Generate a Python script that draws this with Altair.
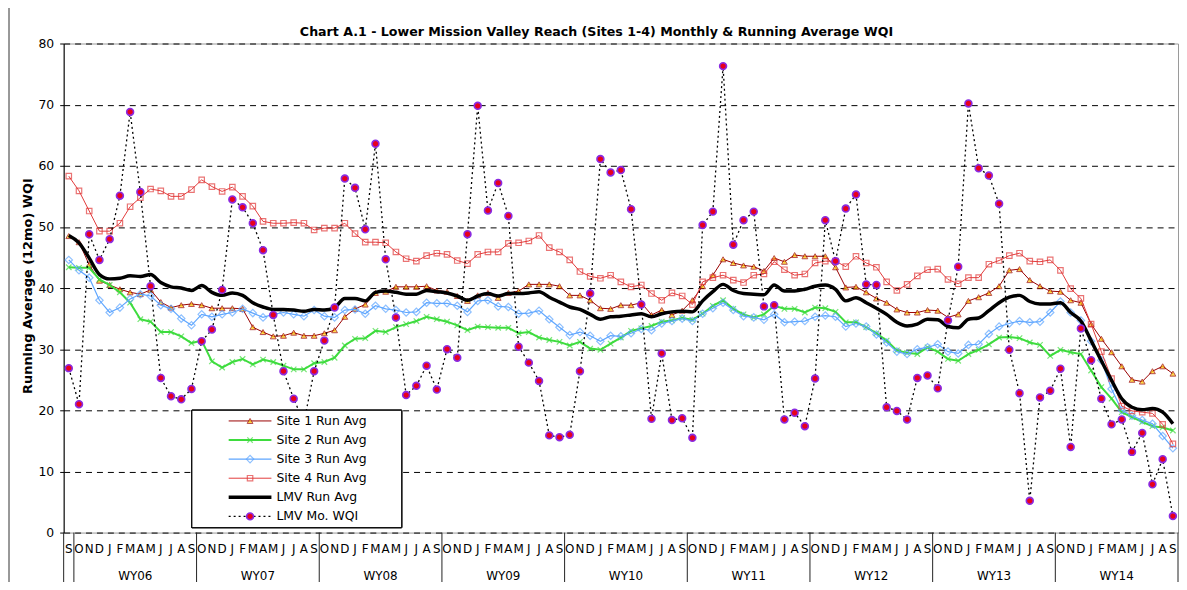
import altair as alt
import pandas as pd

# ---------------- data ----------------
months = ["S"] + ["O", "N", "D", "J", "F", "M", "A", "M", "J", "J", "A", "S"] * 9
water_years = ["WY06", "WY07", "WY08", "WY09", "WY10", "WY11", "WY12", "WY13", "WY14"]

site1_run = [48.5, 47.5, 43.8, 41.2, 40.5, 39.8, 39.3, 39.0, 39.7, 37.7,
             36.8, 37.2, 37.4, 37.2, 36.7, 36.7, 36.7, 36.6, 33.6, 32.8,
             32.1, 32.2, 32.7, 32.2, 32.2, 32.6, 33.1, 35.3, 36.6, 37.3,
             39.2, 39.4, 40.2, 40.2, 40.2, 40.3, 39.6, 39.4, 38.7, 37.9,
             38.8, 39.2, 38.4, 39.2, 39.5, 40.6, 40.6, 40.6, 40.3, 38.8,
             38.8, 38.0, 36.7, 36.6, 37.2, 37.2, 37.6, 35.6, 36.4, 35.6,
             36.3, 38.0, 40.3, 42.1, 44.7, 44.1, 43.7, 43.5, 42.8, 44.9,
             44.3, 45.4, 45.2, 45.2, 45.2, 43.4, 40.1, 40.2, 39.3, 38.3,
             37.6, 36.5, 36.0, 36.0, 36.4, 36.3, 35.2, 35.7, 37.9, 38.5,
             39.2, 40.3, 42.9, 43.1, 41.3, 40.3, 39.5, 39.4, 38.0, 37.6,
             34.1, 31.7, 29.5, 27.2, 25.0, 24.7, 26.4, 27.2, 26.0]

site2_run = [43.4, 43.3, 43.3, 41.4, 40.5, 39.3, 37.6, 34.9, 34.5, 32.8,
             32.8, 32.1, 31.0, 31.4, 28.0, 27.0, 27.9, 28.4, 27.5, 28.3,
             27.9, 27.3, 26.7, 26.7, 27.7, 27.9, 28.6, 30.6, 31.7, 31.8,
             33.0, 32.8, 33.6, 34.1, 34.6, 35.3, 34.9, 34.5, 33.9, 33.1,
             33.7, 33.6, 33.5, 33.5, 32.6, 32.8, 31.9, 31.5, 31.2, 30.6,
             31.2, 30.1, 29.9, 30.9, 31.9, 33.0, 33.4, 33.8, 34.5, 34.7,
             35.1, 34.8, 35.8, 37.1, 38.0, 36.6, 35.7, 35.2, 35.7, 37.1,
             36.6, 36.6, 36.0, 36.8, 36.7, 36.1, 34.4, 34.4, 33.6, 32.6,
             31.4, 29.8, 29.4, 29.2, 30.3, 29.6, 28.4, 28.1, 29.2, 29.9,
             30.8, 31.9, 32.0, 31.8, 31.1, 30.7, 28.9, 29.9, 29.5, 29.2,
             26.5, 23.8, 21.9, 19.7, 18.9, 18.1, 17.4, 17.2, 16.7]

site3_run = [44.6, 42.9, 41.7, 38.0, 36.0, 36.8, 38.2, 39.0, 38.7, 37.2,
             36.6, 35.0, 33.9, 35.7, 35.3, 35.7, 36.0, 36.6, 35.9, 35.2,
             35.7, 36.0, 35.7, 35.4, 36.4, 35.4, 35.2, 36.4, 36.5, 35.8,
             37.1, 36.6, 36.4, 36.0, 36.1, 37.6, 37.5, 37.5, 37.1, 36.1,
             37.9, 38.0, 37.0, 36.9, 35.8, 35.9, 36.3, 34.9, 33.6, 32.3,
             32.8, 32.2, 31.3, 32.2, 32.1, 32.6, 33.3, 33.1, 34.2, 34.6,
             35.0, 34.6, 35.8, 36.7, 37.6, 36.4, 35.4, 35.2, 34.8, 35.7,
             34.4, 34.5, 34.6, 35.3, 35.5, 35.3, 33.7, 34.2, 33.7, 32.4,
             31.1, 29.6, 29.2, 30.0, 30.3, 30.8, 29.6, 29.3, 30.7, 30.8,
             32.5, 33.7, 34.2, 34.6, 34.4, 34.5, 36.0, 37.8, 36.0, 34.7,
             31.3, 28.2, 23.5, 20.0, 19.1, 18.4, 17.8, 15.8, 13.8]

site4_run = [58.3, 55.9, 52.6, 49.3, 49.3, 50.6, 53.3, 54.8, 56.2, 55.9,
             55.0, 55.0, 56.1, 57.7, 56.6, 55.8, 56.5, 55.0, 53.4, 50.9,
             50.6, 50.6, 50.7, 50.6, 49.5, 49.8, 49.8, 50.6, 48.9, 47.5,
             47.5, 47.4, 45.9, 44.8, 44.4, 45.3, 45.7, 45.5, 44.5, 44.0,
             45.5, 45.9, 45.9, 47.3, 47.4, 47.7, 48.6, 46.6, 45.9, 44.6,
             42.7, 41.9, 41.6, 42.1, 41.0, 40.2, 40.5, 39.1, 38.0, 39.2,
             38.7, 37.3, 41.0, 41.7, 42.1, 41.3, 40.9, 42.1, 42.3, 44.3,
             43.0, 42.1, 42.3, 44.1, 44.4, 44.4, 43.5, 45.2, 44.1, 43.4,
             41.0, 39.6, 40.6, 42.0, 43.0, 43.1, 41.4, 40.7, 41.7, 41.7,
             43.9, 44.5, 45.3, 45.7, 44.4, 44.3, 44.6, 42.9, 39.9, 38.3,
             34.1, 29.6, 25.2, 20.7, 19.9, 19.7, 19.5, 17.7, 14.5]

lmv_run = [48.6, 47.4, 44.9, 42.2, 41.5, 41.6, 42.0, 41.9, 42.2, 40.9,
           40.2, 40.0, 39.6, 40.4, 39.3, 38.8, 39.2, 38.8, 37.6, 36.9,
           36.5, 36.5, 36.4, 36.2, 36.5, 36.4, 36.8, 38.3, 38.3, 37.9,
           39.3, 39.5, 39.3, 39.0, 39.0, 39.6, 39.4, 39.2, 38.7, 38.0,
           38.7, 39.1, 38.7, 39.1, 39.1, 39.2, 39.4, 38.5, 37.7, 36.9,
           36.5, 35.7, 34.9, 35.3, 35.4, 35.6, 35.8, 35.3, 35.8, 36.1,
           36.2, 36.1, 37.9, 39.4, 40.6, 39.6, 39.1, 39.0, 38.9, 40.5,
           39.5, 39.5, 39.8, 40.3, 40.5, 39.8, 37.9, 38.4, 37.6, 36.7,
           35.7, 34.4, 33.8, 34.1, 34.9, 34.8, 33.7, 33.5, 34.9, 35.1,
           36.3, 37.6, 38.5, 38.8, 37.8, 37.4, 37.4, 37.6, 36.0, 34.6,
           31.4, 28.1, 24.9, 21.9, 20.5, 20.1, 20.3, 19.7, 17.8]

lmv_monthly = [26.9, 21.0, 48.8, 44.6, 48.0, 55.1, 68.8, 55.7, 40.3, 25.3,
               22.3, 21.8, 23.5, 31.3, 33.2, 39.7, 54.5, 53.2, 50.6, 46.2,
               35.6, 26.4, 21.9, 18.0, 26.4, 31.4, 36.8, 57.9, 56.4, 49.6,
               63.6, 44.7, 35.2, 22.5, 24.0, 27.3, 23.4, 30.0, 28.6, 48.8,
               69.8, 52.7, 57.2, 51.8, 30.4, 27.8, 24.8, 15.9, 15.6, 16.0,
               26.4, 39.1, 61.1, 58.9, 59.3, 52.9, 37.3, 18.6, 29.3, 18.4,
               18.7, 15.5, 50.3, 52.5, 76.3, 47.1, 51.1, 52.5, 37.0, 37.2,
               18.5, 19.6, 17.4, 25.2, 51.1, 44.4, 53.0, 55.3, 40.6, 40.5,
               20.5, 19.9, 18.5, 25.3, 25.7, 23.6, 34.7, 43.5, 70.2, 59.6,
               58.4, 53.8, 29.9, 22.8, 5.2, 22.1, 23.2, 26.8, 14.0, 33.4,
               28.2, 21.9, 17.7, 18.5, 13.2, 16.3, 7.9, 12.0, 2.7]

series_names = ["Site 1 Run Avg", "Site 2 Run Avg", "Site 3 Run Avg",
                "Site 4 Run Avg", "LMV Run Avg", "LMV Mo. WQI"]
series_values = [site1_run, site2_run, site3_run, site4_run, lmv_run, lmv_monthly]

n = len(months)
idx = list(range(n))

rows = []
for name, vals in zip(series_names, series_values):
    for i, v in zip(idx, vals):
        rows.append({"i": i, "series": name, "v": v})
long_df = pd.DataFrame(rows)

month_df = pd.DataFrame({"i": idx, "month": months})
year_df = pd.DataFrame({"wy": water_years,
                        "c": [6.5 + 12 * k for k in range(len(water_years))]})
sep_df = pd.DataFrame({"b": [-0.5] + [0.5 + 12 * k for k in range(len(water_years) + 1)]})
legend_df = pd.DataFrame({"series": series_names, "row": list(range(len(series_names)))})

# ---------------- layout ----------------
W, H = 1121, 492
FONT = "DejaVu Sans"

X_PATH = "M-1,-1L1,1M-1,1L1,-1"

styles = {
    "Site 1 Run Avg": dict(line=dict(color="#990000", strokeWidth=1),
                           point=dict(shape="triangle-up", size=34, filled=True,
                                      fill="#FFCC00", stroke="#990000", strokeWidth=1)),
    "Site 2 Run Avg": dict(line=dict(color="#3EDC3E", strokeWidth=2),
                           point=dict(shape=X_PATH, size=30, filled=False,
                                      stroke="#3EDC3E", strokeWidth=1.2)),
    "Site 3 Run Avg": dict(line=dict(color="#5EA6FF", strokeWidth=1.2),
                           point=dict(shape="diamond", size=55, filled=False,
                                      stroke="#5EA6FF", strokeWidth=1.2)),
    "Site 4 Run Avg": dict(line=dict(color="#E23A3A", strokeWidth=1),
                           point=dict(shape="square", size=30, filled=False,
                                      stroke="#E23A3A", strokeWidth=1.2)),
    "LMV Run Avg": dict(line=dict(color="black", strokeWidth=3.5, interpolate="monotone"),
                        point=None),
    "LMV Mo. WQI": dict(line=dict(color="black", strokeWidth=1.3, strokeDash=[2, 3]),
                        point=dict(shape="circle", size=48, filled=True,
                                   fill="#E8001C", stroke="#8A2BE2", strokeWidth=1.6,
                                   opacity=1)),
}

x_enc = alt.X("i:Q", scale=alt.Scale(domain=[-0.5, n - 0.5], nice=False, zero=False),
              axis=alt.Axis(labels=False, ticks=False, title=None, grid=False,
                            domainColor="black", domainWidth=1))
y_enc = alt.Y("v:Q", scale=alt.Scale(domain=[0, 80], nice=False),
              axis=alt.Axis(values=list(range(0, 81, 10)), title=None, grid=True,
                            gridDash=[6, 5], gridColor="black", gridOpacity=1, gridWidth=1,
                            domainColor="black", tickColor="black", tickSize=4,
                            labelFont=FONT, labelFontSize=12.5, labelColor="black",
                            labelPadding=6))

layers = []
base = alt.Chart(long_df)
for k, name in enumerate(series_names):
    st = styles[name]
    sub = base.transform_filter(alt.datum.series == name)
    layers.append(sub.mark_line(**st["line"]).encode(x=x_enc, y=y_enc))
    if st["point"] is not None:
        layers.append(sub.mark_point(**st["point"]).encode(x=x_enc, y=y_enc))

# legend box
layers.append(alt.Chart(legend_df).mark_rect(fill="white", stroke="black", strokeWidth=1).encode(
    x=alt.value(129), x2=alt.value(340), y=alt.value(369), y2=alt.value(487)))

for name in series_names:
    st = styles[name]
    ld = alt.Chart(legend_df).transform_filter(alt.datum.series == name).transform_calculate(
        py="379.7 + 19.2 * datum.row")
    line_kw = {k: v for k, v in st["line"].items() if k != "interpolate"}
    layers.append(ld.mark_rule(**line_kw).encode(
        x=alt.value(166), x2=alt.value(209), y=alt.Y("py:Q", scale=None)))
    if st["point"] is not None:
        layers.append(ld.mark_point(**st["point"]).encode(
            x=alt.value(187.5), y=alt.Y("py:Q", scale=None)))
    layers.append(ld.mark_text(font=FONT, fontSize=12.5, align="left", baseline="middle",
                               color="black").encode(
        x=alt.value(214), y=alt.Y("py:Q", scale=None), text="series:N"))

# month letters
layers.append(alt.Chart(month_df).mark_text(font=FONT, fontSize=12, baseline="middle",
                                            color="black").encode(
    x=alt.X("i:Q", scale=alt.Scale(domain=[-0.5, n - 0.5], nice=False, zero=False), axis=None),
    y=alt.value(H + 17), text="month:N"))

# water-year labels
layers.append(alt.Chart(year_df).mark_text(font=FONT, fontSize=12, baseline="middle",
                                           color="black").encode(
    x=alt.X("c:Q", scale=alt.Scale(domain=[-0.5, n - 0.5], nice=False, zero=False), axis=None),
    y=alt.value(H + 44), text="wy:N"))

# year separators
layers.append(alt.Chart(sep_df).mark_rule(color="#222", strokeWidth=1).encode(
    x=alt.X("b:Q", scale=alt.Scale(domain=[-0.5, n - 0.5], nice=False, zero=False), axis=None),
    y=alt.value(H), y2=alt.value(H + 57)))

# outer frame (left)
layers.append(alt.Chart(legend_df).mark_rule(color="#999", strokeWidth=2).encode(
    x=alt.value(-55), y=alt.value(-42), y2=alt.value(H + 57)))

# title
layers.append(alt.Chart(pd.DataFrame({"t": ["Chart A.1 -  Lower Mission Valley Reach (Sites 1-4) Monthly & Running Average WQI"]}))
              .mark_text(font=FONT, fontSize=12.7, fontWeight="bold", align="center",
                         baseline="middle", color="black")
              .encode(x=alt.value(536), y=alt.value(-12), text="t:N"))

# y axis title
layers.append(alt.Chart(pd.DataFrame({"t": ["Running Average (12mo) WQI"]}))
              .mark_text(font=FONT, fontSize=13, fontWeight="bold", align="center",
                         baseline="middle", angle=270, color="black")
              .encode(x=alt.value(-36), y=alt.value(244), text="t:N"))

chart = alt.layer(*layers).properties(
    width=W, height=H,
    padding={"left": 56, "top": 34, "right": 1, "bottom": 48},
    autosize=alt.AutoSizeParams(type="none"),
    background="white",
).configure_view(stroke="#999", strokeWidth=1)

chart.save("out.html", embed_options={"renderer": "svg", "actions": False})
